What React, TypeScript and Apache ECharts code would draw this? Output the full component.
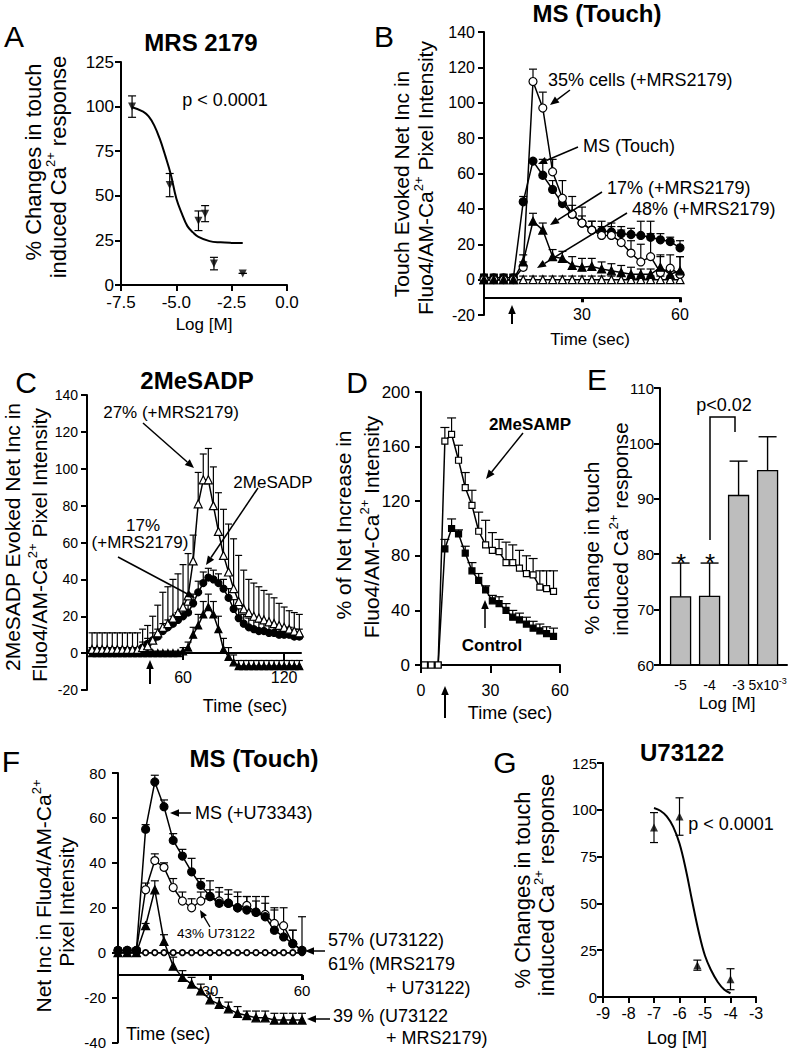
import React, { useEffect, useRef } from 'react';
import * as echarts from 'echarts';

const FONT = '"Liberation Sans", Arial, Helvetica, sans-serif';

// ---------- Panel A : MRS 2179 dose response ----------
const A_logM = [-7, -5.3, -4, -3.7, -3.3, -2];
const A_pct = [100, 56, 36, 40, 12, 6.5];
const A_sem = [6, 6.5, 5.5, 4.5, 3.5, 0];
const A_fitLogM = [-7, -6.5, -6.25, -6, -5.75, -5.5, -5.25, -5, -4.75, -4.5, -4.25, -4, -3.5, -3, -2.5, -2];
const A_fitPct = [99.6, 97.2, 94.5, 89.5, 82, 72.5, 62, 48.5, 40, 33, 29.5, 27, 24.6, 23.9, 23.6, 23.5];

// ---------- Panel B : MS (Touch) ----------
const B_time = [0, 3, 6, 9, 12, 15, 18, 21, 24, 27, 30, 33, 36, 39, 42, 45, 48, 51, 54, 57, 60];
const B_touch = [1, 1, 1, 1, 44, 67, 59, 51, 43, 37, 32, 28, 27.5, 27, 26, 25.5, 25, 24, 22.5, 21.5, 18];
const B_touchTop = [3, 3, 3, 3, 47, 68, 68, 56, 47, 42, 36, 33, 33, 32, 30, 29, 33, 26, 26, 24, 22];
const B_mrs35 = [0, 0, 0, 0, 7, 112, 97, 61, 46, 37, 32, 28, 25, 25, 21, 15, 10, 13, 4, 6.5, 3];
const B_mrs35Top = [2, 2, 2, 2, 10, 119, 106, 68, 56, 47, 41, 33, 30, 30, 28, 22, 20, 33, 14, 14, 13];
const B_mrs17 = [0, 0, 0, 0, 10, 33, 28, 13, 12, 8, 7, 7.5, 6, 5, 4, 3, 3, 3, 7, 3, 5];
const B_mrs17Top = [2, 2, 2, 2, 14, 37.5, 32, 17, 16, 13, 12, 12, 10, 9, 8, 7, 6, 6, 13, 5, 13];
const B_mrs48 = [0, 0, 0, 0, 0, 0, 0, 0, 0, 0, 0, 0, 0, 0, 0, 0, 0, 0, 0, 0, 0];
const B_mrs48Top = [3, 3, 3, 3, 2, 2, 2, 2, 2, 2, 2, 2, 2, 2, 2, 2, 2, 2, 2, 2, 2];

// ---------- Panel C : 2MeSADP ----------
const C_time = [6, 9, 12, 15, 18, 21, 24, 27, 30, 33, 36, 39, 42, 45, 48, 51, 54, 57, 60, 63, 66, 69, 72, 75, 78, 81, 84, 87, 90, 93, 96, 99, 102, 105, 108, 111, 114, 117, 120, 123, 126, 129];
const C_mrs27 = [2, 2, 2, 2, 2, 2, 2, 2, 2, 2, 3, 4, 7, 11, 14, 16, 19, 22, 25, 31, 50, 81, 94, 94, 80, 66, 53, 44, 35, 28, 24, 22, 20, 19, 18, 17, 16, 15, 14, 13, 12, 11];
const C_mrs27Top = [11, 11, 11, 11, 11, 11, 11, 11, 11, 11, 13, 15, 20, 26, 33, 36, 40, 43, 48, 54, 64, 98, 108, 111, 101, 87, 78, 70, 62, 53, 45, 40, 38, 36, 34, 32, 30, 27, 25, 23, 22, 21];
const C_sadp = [1, 1, 1, 1, 1, 1, 1, 1, 1, 1, 3, 5, 7, 9, 12, 14, 16, 18, 20, 22, 27, 33, 38, 41, 40, 38, 35, 30, 24, 19, 16, 14, 13, 12, 12, 11, 11, 10, 10, 10, 9, 9];
const C_sadpTop = [3, 3, 3, 3, 3, 3, 3, 3, 3, 3, 6, 8, 11, 13, 16, 18, 20, 22, 24, 26, 32, 39, 44, 46, 45, 43, 40, 35, 29, 24, 21, 19, 18, 17, 17, 16, 15, 14, 14, 14, 13, 13];
const C_mrs17 = [0, 0, 0, 0, 0, 0, 0, 0, 0, 0, 0, 0, 0, 0, 0, 0, 0, 0, 1, 3, 10, 15, 21, 25, 21, 13, 2, -2, -5, -7, -7, -7, -7, -7, -7, -7, -7, -7, -7, -7, -7, -7];
const C_mrs17Top = [1, 1, 1, 1, 1, 1, 1, 1, 1, 1, 1, 1, 1, 1, 1, 1, 1, 1, 3, 6, 14, 21, 28, 32, 28, 20, 8, 3, -1, -4, -4, -4, -4, -4, -4, -4, -4, -4, -4, -4, -4, -4];

// ---------- Panel D : 2MeSAMP ----------
const D_time = [1.5, 4.4, 7.4, 10.3, 13.2, 16.2, 19.1, 22.0, 24.9, 27.9, 30.8, 33.7, 36.7, 39.6, 42.5, 45.5, 48.4, 51.3, 54.2, 57.2];
const D_mesamp = [0, 0, 0, 164, 169, 150, 130, 117, 98, 88, 84, 83, 75, 75, 71, 67, 66, 57, 56, 54];
const D_mesampTop = [0, 0, 0, 174, 181, 161, 141, 128, 112, 106, 97, 92, 90, 88, 84, 80, 78, 69, 69, 69];
const D_control = [0, 0, 0, 85, 100, 96, 82, 69, 62, 55, 47, 45, 40, 35, 33, 30, 27, 25, 23, 21];
const D_controlTop = [0, 0, 0, 92, 107, 99, 87, 75, 67, 58, 51, 50, 45, 40, 38, 35, 32, 30, 28, 27];

// ---------- Panel E : bar chart ----------
const E_labels = ['-5', '-4', '-3', '5x10-3'];
const E_mean = [72.3, 72.4, 90.6, 95.1];
const E_top = [78.4, 78.4, 96.8, 101.2];

// ---------- Panel F : MS (Touch) with U73122 ----------
const F_time = [0, 3, 6, 9, 12, 15, 18, 21, 24, 27, 30, 33, 36, 39, 42, 45, 48, 51, 54, 57, 60];
const F_u73343 = [1, 1, 1, 55, 76, 65, 50, 43, 36, 30, 25, 22, 22, 20, 19, 18, 16, 10, 7, 4, 1];
const F_u73343Top = [2, 2, 2, 57, 79, 68, 53, 46, 42, 33, 32, 29, 28, 27, 25, 25, 25, 20, 12, 10, 16];
const F_u43 = [1, 1, 1, 28, 41, 38, 29, 23, 20, 23, 25, 23, 22, 20, 21, 18, 17, 13, 12, 4, 1];
const F_u43Top = [2, 2, 2, 31, 44, 40, 33, 27, 24, 27, 28, 27, 26, 25, 25, 23, 22, 19, 20, 10, 2];
const F_u57 = [0, 0, 0, 0, 0, 0, 0, 0, 0, 0, 0, 0, 0, 0, 0, 0, 0, 0, 0, 0, 0];
const F_u61 = [0, 0, 0, 0, 0, 0, 0, 0, 0, 0, 0, 0, 0, 0, 0, 0, 0, 0, 0, 0, 0];
const F_u39 = [0, 0, 0, 12, 28, 5, -6, -11, -14, -17, -21, -23, -25, -27, -28, -29, -29, -30, -30, -30, -30];
const F_u39Top = [1, 1, 1, 13, 32, 8, -2, -8, -11, -14, -18, -20, -22, -24, -26, -26, -26, -27, -27, -27, -27];

// ---------- Panel G : U73122 dose response ----------
const G_logM = [-7, -6, -5.3, -4];
const G_pct = [90.5, 96.4, 17, 9.5];
const G_sem = [8, 10, 2.7, 5.6];
const G_fitLogM = [-7, -6.75, -6.5, -6.25, -6, -5.75, -5.5, -5.25, -5, -4.75, -4.5, -4.25, -4];
const G_fitPct = [101, 99.5, 96.5, 91, 82, 68, 51, 35, 22, 14, 8, 4, 2];

// ---------------- helpers ----------------
const pairs = (xs: number[], ys: number[]) => xs.map((x, i) => [x, ys[i]]);

function axis(gi: number, o: any) {
  const fontSize = o.fontSize ?? 15;
  const a: any = {
    gridIndex: gi,
    type: 'value',
    min: o.min,
    max: o.max,
    interval: o.interval,
    offset: o.offset ?? 0,
    axisLine: { show: true, onZero: false, lineStyle: { color: '#000', width: 2 } },
    axisTick: {
      show: o.tick !== false,
      length: o.tickLen ?? 6,
      lineStyle: { color: '#000', width: o.tickW ?? 2 },
    },
    axisLabel: {
      show: o.label !== false,
      color: '#000',
      fontSize,
      fontFamily: FONT,
      margin: o.margin ?? 7,
      formatter: o.formatter,
      rich: o.rich,
      showMinLabel: true,
      showMaxLabel: true,
      hideOverlap: false,
    },
    splitLine: { show: false },
  };
  if (o.custom) {
    a.axisLabel.customValues = o.custom;
    a.axisTick.customValues = o.tickCustom ?? o.custom;
  }
  return a;
}

function errBars(gi: number, xs: number[], ys: number[], hi: number[], lo: number[] | null, cap: number) {
  return {
    type: 'custom',
    xAxisIndex: gi,
    yAxisIndex: gi,
    z: 2,
    silent: true,
    data: xs.map((x, i) => [x, ys[i], hi[i], lo ? lo[i] : ys[i]]),
    encode: { x: 0, y: 1 },
    renderItem: (_p: any, api: any) => {
      const x = api.value(0);
      const h = api.value(2);
      const l = api.value(3);
      const pH = api.coord([x, h]);
      const pL = api.coord([x, l]);
      const st = { stroke: '#000', lineWidth: 1.2 };
      const ch: any[] = [
        { type: 'line', shape: { x1: pL[0], y1: pL[1], x2: pH[0], y2: pH[1] }, style: st },
        { type: 'line', shape: { x1: pH[0] - cap / 2, y1: pH[1], x2: pH[0] + cap / 2, y2: pH[1] }, style: st },
      ];
      if (lo) ch.push({ type: 'line', shape: { x1: pL[0] - cap / 2, y1: pL[1], x2: pL[0] + cap / 2, y2: pL[1] }, style: st });
      return { type: 'group', children: ch };
    },
  };
}

function trace(gi: number, xs: number[], ys: number[], symbol: string, filled: boolean, size = 8, rotate = 0) {
  return {
    type: 'line',
    xAxisIndex: gi,
    yAxisIndex: gi,
    z: 3,
    silent: true,
    data: pairs(xs, ys),
    symbol,
    symbolSize: size,
    symbolRotate: rotate,
    showSymbol: true,
    itemStyle: { color: filled ? '#000' : '#fff', borderColor: '#000', borderWidth: 1.2 },
    lineStyle: { color: '#000', width: 1.5 },
    emphasis: { disabled: true },
  };
}

function curve(gi: number, xs: number[], ys: number[]) {
  return {
    type: 'line',
    xAxisIndex: gi,
    yAxisIndex: gi,
    z: 2,
    silent: true,
    data: pairs(xs, ys),
    symbol: 'none',
    smooth: 0.4,
    lineStyle: { color: '#000', width: 2 },
  };
}

function points(gi: number, xs: number[], ys: number[], rotate: number) {
  return {
    type: 'scatter',
    xAxisIndex: gi,
    yAxisIndex: gi,
    z: 4,
    silent: true,
    data: pairs(xs, ys),
    symbol: 'triangle',
    symbolRotate: rotate,
    symbolSize: 8,
    itemStyle: { color: '#000' },
  };
}

function txt(x: number, y: number, text: string, size: number, o: any = {}) {
  const align = o.align ?? 'center';
  return {
    type: 'text',
    x,
    y,
    rotation: o.rot ?? 0,
    z: 50,
    silent: true,
    style: {
      text,
      fontSize: size,
      fontFamily: FONT,
      fontWeight: o.bold ? 'bold' : 'normal',
      fill: '#000',
      textAlign: align,
      textVerticalAlign: 'middle',
      align,
      verticalAlign: 'middle',
      rich: o.rich,
    },
  };
}

function supRich(size: number) {
  return {
    a: { fontSize: size, fontFamily: FONT, fill: '#000', color: '#000', lineHeight: size + 6 },
    s: { fontSize: Math.round(size * 0.6), fontFamily: FONT, fill: '#000', color: '#000', verticalAlign: 'top', lineHeight: size + 6 },
  };
}

function yName(x: number, y: number, text: string, size: number) {
  return txt(x, y, text, size, { rot: Math.PI / 2, rich: supRich(size) });
}

function arrow(x1: number, y1: number, x2: number, y2: number, head = 9, w = 1.5) {
  const ang = Math.atan2(y2 - y1, x2 - x1);
  const bx = x2 - head * Math.cos(ang);
  const by = y2 - head * Math.sin(ang);
  const px = -Math.sin(ang) * head * 0.42;
  const py = Math.cos(ang) * head * 0.42;
  return [
    { type: 'line', z: 50, silent: true, shape: { x1, y1, x2: bx, y2: by }, style: { stroke: '#000', lineWidth: w } },
    {
      type: 'polygon',
      z: 50,
      silent: true,
      shape: { points: [[x2, y2], [bx + px, by + py], [bx - px, by - py]] },
      style: { fill: '#000' },
    },
  ];
}

function buildOption() {
  const grids = [
    { left: 121, top: 62, width: 166, height: 223 }, // A
    { left: 484, top: 32, width: 196, height: 283 }, // B
    { left: 87, top: 395, width: 214, height: 295 }, // C
    { left: 421, top: 392, width: 139, height: 273 }, // D
    { left: 660, top: 388, width: 127, height: 277 }, // E
    { left: 118, top: 773, width: 184, height: 270 }, // F
    { left: 603, top: 763, width: 153, height: 234 }, // G
  ];

  const xAxes = [
    axis(0, { min: -7.5, max: 0, interval: 2.5, fontSize: 17, margin: 9, formatter: (v: number) => v.toFixed(1) }),
    // B: time axis drawn at value -10 (10 units above the -20 floor)
    axis(1, { min: 0, max: 60, fontSize: 16, margin: 9, offset: -17.7, custom: [30, 60], tickW: 3, tickLen: 5 }),
    // C: time axis drawn at value 0
    axis(2, { min: 3, max: 130, fontSize: 16, margin: 16, offset: -36.9, custom: [60, 120], tickLen: 7 }),
    axis(3, { min: 0, max: 60, fontSize: 16, margin: 17, custom: [0, 30, 60], tickLen: 8 }),
    axis(4, {
      min: -0.71,
      max: 3.67,
      fontSize: 14,
      margin: 11,
      custom: [0, 1, 2, 3],
      tick: false,
      formatter: (v: number) => {
        const s = E_labels[Math.round(v)] ?? '';
        if (s.indexOf('x10') > 0) {
          const parts = s.split('x10');
          return '{n|' + parts[0] + 'x10}{s|' + parts[1] + '}';
        }
        return '{n|' + s + '}';
      },
      rich: {
        n: { fontSize: 14, fontFamily: FONT, color: '#000', lineHeight: 18 },
        s: { fontSize: 9, fontFamily: FONT, color: '#000', verticalAlign: 'top', lineHeight: 18 },
      },
    }),
    // F: time axis drawn at value -10 (30 units above the -40 floor)
    axis(5, { min: 0, max: 60, fontSize: 15, margin: 8, offset: -67.5, custom: [30, 60], tickW: 3, tickLen: 5 }),
    axis(6, { min: -9, max: -3, interval: 1, fontSize: 16, margin: 8 }),
  ];

  const yAxes = [
    axis(0, { min: 0, max: 125, interval: 25, fontSize: 17, margin: 7 }),
    axis(1, { min: -20, max: 140, interval: 20, fontSize: 16, margin: 9 }),
    axis(2, { min: -20, max: 140, interval: 20, fontSize: 14, margin: 9 }),
    axis(3, { min: 0, max: 200, interval: 40, fontSize: 17, margin: 11 }),
    axis(4, { min: 60, max: 110, interval: 10, fontSize: 15, margin: 6 }),
    axis(5, { min: -40, max: 80, interval: 20, fontSize: 15, margin: 12 }),
    axis(6, { min: 0, max: 125, interval: 25, fontSize: 15, margin: 6 }),
  ];

  const add = (a: number[], b: number[]) => a.map((v, i) => v + b[i]);
  const sub = (a: number[], b: number[]) => a.map((v, i) => v - b[i]);

  const series: any[] = [
    // A
    curve(0, A_fitLogM, A_fitPct),
    errBars(0, A_logM, A_pct, add(A_pct, A_sem), sub(A_pct, A_sem), 8),
    points(0, A_logM, A_pct, 180),
    // B
    errBars(1, B_time, B_mrs48, B_mrs48Top, null, 8),
    errBars(1, B_time, B_touch, B_touchTop, null, 8),
    errBars(1, B_time, B_mrs35, B_mrs35Top, null, 8),
    errBars(1, B_time, B_mrs17, B_mrs17Top, null, 8),
    trace(1, B_time, B_mrs48, 'triangle', false, 8),
    trace(1, B_time, B_touch, 'circle', true, 8),
    trace(1, B_time, B_mrs35, 'circle', false, 8),
    trace(1, B_time, B_mrs17, 'triangle', true, 8),
    // C
    errBars(2, C_time, C_mrs27, C_mrs27Top, null, 7),
    errBars(2, C_time, C_sadp, C_sadpTop, null, 7),
    errBars(2, C_time, C_mrs17, C_mrs17Top, null, 7),
    trace(2, C_time, C_sadp, 'circle', true, 7),
    trace(2, C_time, C_mrs17, 'triangle', true, 7),
    trace(2, C_time, C_mrs27, 'triangle', false, 8),
    // D
    errBars(3, D_time, D_mesamp, D_mesampTop, null, 9),
    errBars(3, D_time, D_control, D_controlTop, null, 9),
    trace(3, D_time, D_control, 'rect', true, 6),
    trace(3, D_time, D_mesamp, 'rect', false, 6),
    // E
    {
      type: 'custom',
      xAxisIndex: 4,
      yAxisIndex: 4,
      z: 3,
      silent: true,
      data: E_mean.map((v, i) => [i, v, E_top[i]]),
      encode: { x: 0, y: 1 },
      renderItem: (_p: any, api: any) => {
        const i = api.value(0);
        const v = api.value(1);
        const t = api.value(2);
        const base = api.coord([i, 60]);
        const pv = api.coord([i, v]);
        const pt = api.coord([i, t]);
        const st = { stroke: '#000', lineWidth: 1.4 };
        return {
          type: 'group',
          children: [
            { type: 'line', shape: { x1: pv[0], y1: pv[1], x2: pt[0], y2: pt[1] }, style: st },
            { type: 'line', shape: { x1: pt[0] - 9, y1: pt[1], x2: pt[0] + 9, y2: pt[1] }, style: st },
            {
              type: 'rect',
              shape: { x: pv[0] - 10, y: pv[1], width: 20, height: base[1] - pv[1] },
              style: { fill: '#bdbdbd', stroke: '#000', lineWidth: 1.3 },
            },
          ],
        };
      },
    },
    // F
    errBars(5, F_time, F_u73343, F_u73343Top, null, 8),
    errBars(5, F_time, F_u43, F_u43Top, null, 8),
    errBars(5, F_time, F_u39, F_u39Top, null, 8),
    trace(5, F_time, F_u61, 'circle', false, 6),
    trace(5, F_time, F_u57, 'circle', false, 5),
    trace(5, F_time, F_u39, 'triangle', true, 8),
    trace(5, F_time, F_u43, 'circle', false, 8),
    trace(5, F_time, F_u73343, 'circle', true, 8),
    // G
    curve(6, G_fitLogM, G_fitPct),
    errBars(6, G_logM, G_pct, add(G_pct, G_sem), sub(G_pct, G_sem), 8),
    points(6, G_logM, G_pct, 0),
  ];

  const g: any[] = [
    // panel letters
    txt(14, 36, 'A', 30),
    txt(384, 36, 'B', 30),
    txt(26, 382, 'C', 30),
    txt(357, 382, 'D', 30),
    txt(597, 379, 'E', 30),
    txt(11, 761, 'F', 30),
    txt(505, 762, 'G', 30),
    // titles
    txt(201, 42, 'MRS 2179', 24, { bold: true }),
    txt(597, 13, 'MS (Touch)', 24, { bold: true }),
    txt(197, 380, '2MeSADP', 24, { bold: true }),
    txt(254, 758, 'MS (Touch)', 24, { bold: true }),
    txt(682, 752, 'U73122', 24, { bold: true }),
    // y-axis names
    yName(33, 162, '{a|% Changes in touch}', 22),
    yName(58, 167, '{a|induced Ca}{s|2+}{a| response}', 22),
    yName(401, 184, '{a|Touch Evoked Net Inc in}', 21),
    yName(425, 178, '{a|Fluo4/AM-Ca}{s|2+}{a| Pixel Intensity}', 21),
    yName(12, 537, '{a|2MeSADP Evoked Net Inc in}', 21),
    yName(39, 545, '{a|Fluo4/AM-Ca}{s|2+}{a| Pixel Intensity}', 21),
    yName(343, 525, '{a|% of Net Increase in}', 21),
    yName(371, 527, '{a|Fluo4/AM-Ca}{s|2+}{a| Intensity}', 21),
    yName(591, 548, '{a|% change in touch}', 21),
    yName(620, 529, '{a|induced Ca}{s|2+}{a| response}', 21),
    yName(43, 896, '{a|Net Inc in Fluo4/AM-Ca}{s|2+}', 21),
    yName(66, 902, '{a|Pixel Intensity}', 21),
    yName(522, 890, '{a|% Changes in touch}', 22),
    yName(546, 885, '{a|induced Ca}{s|2+}{a| response}', 22),
    // x-axis names
    txt(204, 324, 'Log [M]', 17),
    txt(590, 339, 'Time (sec)', 17),
    txt(245, 706, 'Time (sec)', 18),
    txt(510, 713, 'Time (sec)', 18),
    txt(727, 703, 'Log [M]', 17),
    txt(126, 1034, 'Time (sec)', 18, { align: 'left' }),
    txt(677, 1038, 'Log [M]', 18),
    // A / G stats
    txt(225, 100, 'p < 0.0001', 18),
    txt(731, 824, 'p < 0.0001', 18),
    // B annotations
    txt(548, 80, '35% cells (+MRS2179)', 18, { align: 'left' }),
    txt(583, 146, 'MS (Touch)', 18, { align: 'left' }),
    txt(607, 188, '17% (+MRS2179)', 18, { align: 'left' }),
    txt(632, 209, '48% (+MRS2179)', 18, { align: 'left' }),
    ...arrow(570, 90, 550, 105),
    ...arrow(578, 147, 538, 164),
    ...arrow(602, 192, 550, 225),
    ...arrow(627, 213, 537, 268),
    ...arrow(512, 324, 512, 305, 9, 2),
    // C annotations
    txt(171, 412, '27% (+MRS2179)', 17),
    txt(273, 482, '2MeSADP', 17),
    txt(143, 525, '17%', 17),
    txt(140, 542, '(+MRS2179)', 17),
    ...arrow(143, 423, 194, 468),
    ...arrow(258, 488, 206, 565),
    ...arrow(118, 557, 195, 598),
    ...arrow(150, 684, 150, 660, 9, 2),
    // D annotations
    txt(530, 424, '2MeSAMP', 17, { bold: true }),
    txt(492, 645, 'Control', 17, { bold: true }),
    ...arrow(523, 433, 486, 479),
    ...arrow(485, 628, 485, 600),
    ...arrow(445, 718, 445, 686, 9, 2),
    // E annotations
    txt(724, 405, 'p<0.02', 18),
    txt(681, 563, '*', 26),
    txt(710, 563, '*', 26),
    {
      type: 'polyline',
      z: 50,
      silent: true,
      shape: { points: [[710, 540], [710, 417], [735, 417], [735, 432]] },
      style: { stroke: '#000', lineWidth: 1.5, fill: null },
    },
    // F annotations
    txt(195, 813, 'MS (+U73343)', 18, { align: 'left' }),
    ...arrow(191, 813, 170, 813),
    txt(177, 933, '43% U73122', 13.5, { align: 'left' }),
    ...arrow(210, 927, 200, 910, 8, 1.3),
    txt(328, 940, '57% (U73122)', 18, { align: 'left' }),
    ...arrow(325, 951, 305, 951),
    txt(328, 964, '61% (MRS2179', 18, { align: 'left' }),
    txt(386, 988, '+ U73122)', 18, { align: 'left' }),
    txt(333, 1016, '39 % (U73122', 18, { align: 'left' }),
    ...arrow(330, 1019, 307, 1019),
    txt(386, 1038, '+ MRS2179)', 18, { align: 'left' }),
  ];

  return {
    animation: false,
    backgroundColor: '#fff',
    textStyle: { fontFamily: FONT },
    grid: grids,
    xAxis: xAxes,
    yAxis: yAxes,
    series,
    graphic: { elements: g },
  };
}

export default function App() {
  const ref = useRef<HTMLDivElement>(null);
  useEffect(() => {
    if (!ref.current) return;
    const chart = echarts.init(ref.current, undefined, { renderer: 'svg' });
    chart.setOption(buildOption() as any);
    return () => chart.dispose();
  }, []);
  return (
    <div
      ref={ref}
      style={{ position: 'absolute', left: 0, top: 0, width: 797, height: 1050, background: '#fff' }}
    />
  );
}
